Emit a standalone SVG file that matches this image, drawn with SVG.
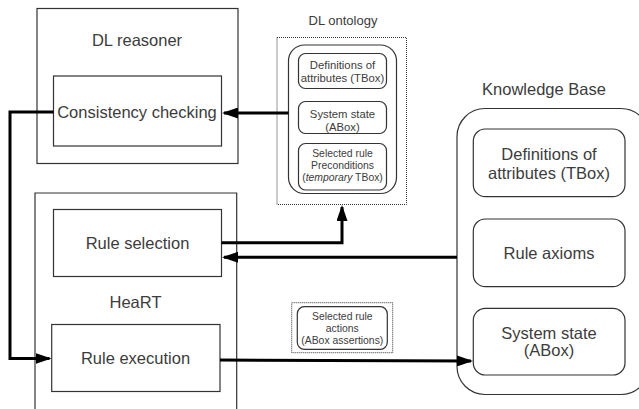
<svg xmlns="http://www.w3.org/2000/svg" width="639" height="409" viewBox="0 0 639 409">
  <style>
    text { font-family: "Liberation Sans", Arial, sans-serif; fill: #3c3c3c; text-anchor: middle; }
    .big { font-size: 16.5px; }
    .mid { font-size: 13px; }
    .sm { font-size: 11.3px; }
    .xs { font-size: 10.4px; }
    .box { fill: #ffffff; stroke: #333333; stroke-width: 1.2; }
    .frame { fill: none; stroke: #333333; stroke-width: 1.2; }
    .dotted { fill: #ffffff; stroke: #333333; stroke-width: 1; stroke-dasharray: 1 1; }
    .conn { fill: none; stroke: #000000; stroke-width: 3; }
  </style>
  <defs>
    <marker id="arrow" markerUnits="userSpaceOnUse" markerWidth="16" markerHeight="11" refX="14" refY="5.5" orient="auto">
      <path d="M0,0 L16,5.5 L0,11 z" fill="#000000"/>
    </marker>
  </defs>

  <rect width="639" height="409" fill="#ffffff"/>

  <!-- DL reasoner -->
  <g id="dl-reasoner">
    <rect class="box" x="37" y="8.5" width="201" height="155"/>
    <text class="big" x="137" y="45.5">DL reasoner</text>
  </g>
  <g id="consistency-checking">
    <rect class="box" x="53.5" y="76" width="168" height="70"/>
    <text class="big" x="137" y="118.3">Consistency checking</text>
  </g>

  <!-- HeaRT (frame open at the bottom) -->
  <g id="heart">
    <path class="frame" d="M35,409 V193 H236.7 V409"/>
    <text class="big" x="135.5" y="308.3">HeaRT</text>
  </g>
  <g id="rule-selection">
    <rect class="box" x="53.5" y="209.5" width="168" height="67"/>
    <text class="big" x="137.5" y="249.3">Rule selection</text>
  </g>
  <g id="rule-execution">
    <rect class="box" x="51.7" y="324.5" width="168.3" height="67"/>
    <text class="big" x="135.5" y="364">Rule execution</text>
  </g>

  <!-- DL ontology -->
  <g id="dl-ontology">
    <text class="mid" x="343" y="25">DL ontology</text>
    <rect class="dotted" x="277" y="37.5" width="129.5" height="167"/>
    <rect class="box" x="288.5" y="45" width="108" height="148.5" rx="16"/>
    <rect class="box" x="298.5" y="53.5" width="88" height="35" rx="7"/>
    <text class="sm" x="342.5" y="68.8">Definitions of</text>
    <text class="sm" x="342.5" y="82">attributes (TBox)</text>
    <rect class="box" x="298.5" y="101.5" width="88" height="32" rx="7"/>
    <text class="sm" x="342.5" y="118">System state</text>
    <text class="sm" x="342.5" y="131">(ABox)</text>
    <rect class="box" x="298.5" y="143.5" width="88" height="46.5" rx="7"/>
    <text class="xs" x="342.5" y="156.5">Selected rule</text>
    <text class="xs" x="342.5" y="169">Preconditions</text>
    <text class="xs" x="342.5" y="180.5">(<tspan font-style="italic">temporary</tspan> TBox)</text>
  </g>

  <!-- Selected rule actions -->
  <g id="rule-actions">
    <rect class="dotted" x="291.7" y="302.7" width="101" height="50"/>
    <rect class="box" x="297.3" y="306.7" width="90" height="42.6" rx="7"/>
    <text class="xs" x="342.3" y="320">Selected rule</text>
    <text class="xs" x="342.3" y="331.7">actions</text>
    <text class="xs" x="342.3" y="344">(ABox assertions)</text>
  </g>

  <!-- Knowledge Base -->
  <g id="knowledge-base">
    <text class="big" x="544" y="95">Knowledge Base</text>
    <rect class="box" x="457" y="108.5" width="192" height="286" rx="28"/>
    <rect class="box" x="473.3" y="129" width="151.7" height="67.7" rx="12"/>
    <text class="big" x="549" y="160">Definitions of</text>
    <text class="big" x="549" y="178.5">attributes (TBox)</text>
    <rect class="box" x="473.3" y="219" width="151.7" height="67.7" rx="12"/>
    <text class="big" x="549" y="259">Rule axioms</text>
    <rect class="box" x="473.3" y="308.3" width="151.7" height="66.7" rx="12"/>
    <text class="big" x="549" y="338.5">System state</text>
    <text class="big" x="549" y="356">(ABox)</text>
  </g>

  <!-- connectors -->
  <g id="connectors">
    <path class="conn" d="M288.5,113 H224" marker-end="url(#arrow)"/>
    <path class="conn" d="M53.5,112 H10 V358.5 H49.5" marker-end="url(#arrow)"/>
    <path class="conn" d="M221.5,242.7 H342 V207" marker-end="url(#arrow)"/>
    <path class="conn" d="M457,257.3 H224" marker-end="url(#arrow)"/>
    <path class="conn" d="M220,360 L471,361" marker-end="url(#arrow)"/>
  </g>
</svg>
